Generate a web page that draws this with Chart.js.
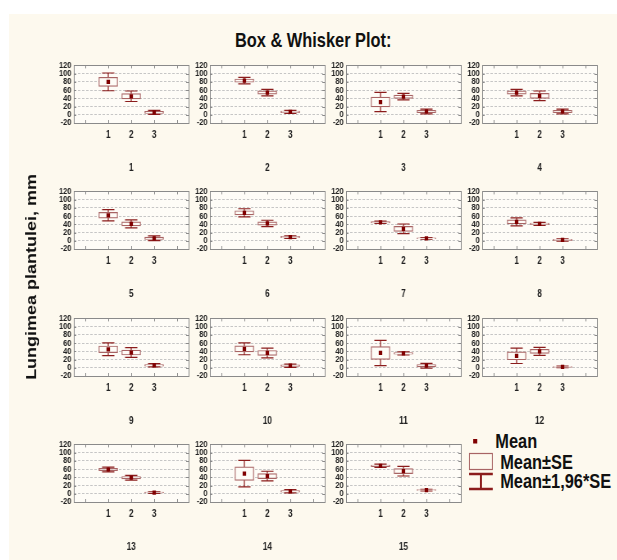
<!DOCTYPE html>
<html>
<head>
<meta charset="utf-8">
<script src="https://cdn.jsdelivr.net/npm/chart.js"></script>
<style>
  html, body { margin: 0; padding: 0; background: #ffffff; overflow: hidden; }
  /* the original graph is squeezed horizontally, so the whole stage is drawn wider then scaled */
  #stage { position: absolute; left: 0; top: 0; width: 753px; height: 560px;
           transform: scaleX(0.82); transform-origin: 0 0; }
  #stage canvas { position: absolute; }
  #stage svg { position: absolute; left: 0; top: 0; }
  text { font-family: "Liberation Sans", Arial, sans-serif; font-weight: bold; fill: #111; }
</style>
</head>
<body>
<div id="stage">
  <svg width="753" height="560">
    <rect x="11" y="14" width="742" height="546" fill="#fdf9ee"></rect>
    <text x="382" y="47" font-size="20" text-anchor="middle">Box &amp; Whisker Plot:</text>
    <text x="38" y="277" font-size="18" text-anchor="middle" dominant-baseline="central"
          transform="rotate(-90 38 277)">Lungimea plantulei, mm</text>
    <!-- legend -->
    <rect x="577" y="439" width="5" height="4.5" fill="#800000"></rect>
    <text x="604" y="448" font-size="20">Mean</text>
    <rect x="572.5" y="453.5" width="28" height="16" fill="none" stroke="#a86464" stroke-width="1.2"></rect>
    <text x="610" y="469" font-size="20">Mean±SE</text>
    <path d="M572 474 H601 M586.5 474 V489 M572 489 H601" stroke="#8b1c1c" stroke-width="2.4" fill="none"></path>
    <text x="610" y="488" font-size="20">Mean±1,96*SE</text>
  </svg>
</div>
<script>
// groups on the x axis and panel names
const groups = [1, 2, 3];
const xMarks = [0, 1, 2, 3, 4];
const yTicks = [-20, 0, 20, 40, 60, 80, 100, 120];
const panelNames = ["1", "2", "3", "4", "5", "6", "7", "8", "9", "10", "11", "12", "13", "14", "15"];

// means per group, one value per panel (1..15)
const meanGroup1 = [80, 83, 31, 54, 62, 68, 45, 46, 45, 46, 36, 29, 59, 49, 68];
const meanGroup2 = [45, 54, 44, 46, 41, 42, 29, 41, 37, 36, 35, 40, 39, 43, 55];
const meanGroup3 = [6, 7, 8, 8, 6, 9, 6, 2, 6, 5, 5, 2, 3, 6, 9];

// standard errors per group
const seGroup1 = [11, 4, 12, 4, 7, 5, 1.5, 5, 8, 7.3, 15.6, 9.5, 3, 16.4, 2];
const seGroup2 = [6.5, 4, 4, 6, 5, 4, 6, 2, 6, 6, 2, 5, 3, 6, 6];
const seGroup3 = [2.5, 2, 3, 3, 3, 1.5, 1, 1.5, 2, 2, 3, 1, 1, 2, 1];

const SQ = 0.82;            // horizontal squeeze of the stage
const plotW = 140, plotH = 60;
const padL = 30, padT = 6, padR = 6, axisH = 60;

const dark = "#800000";
const whiskerColor = "#8b1c1c";
const boxColor = "#a86464";
const plotBg = "#fefcf7";

const panelPlugin = {
  id: "panelPlugin",
  beforeDraw(chart) {
    const a = chart.chartArea, ctx = chart.ctx;
    ctx.save();
    ctx.fillStyle = plotBg;
    ctx.fillRect(a.left, a.top, a.width, a.height);
    ctx.restore();
  },
  beforeDatasetsDraw(chart) {
    // whiskers: mean ± 1.96*SE
    const ctx = chart.ctx, xs = chart.scales.x, ys = chart.scales.y;
    const st = chart.options.plugins.panelPlugin;
    ctx.save();
    ctx.strokeStyle = whiskerColor;
    ctx.lineWidth = 1.2;
    st.means.forEach((m, i) => {
      const x = xs.getPixelForValue(groups[i]);
      const y1 = ys.getPixelForValue(m + 1.96 * st.ses[i]);
      const y2 = ys.getPixelForValue(m - 1.96 * st.ses[i]);
      ctx.beginPath();
      ctx.moveTo(x, y1); ctx.lineTo(x, y2);
      ctx.moveTo(x - 7.5, y1); ctx.lineTo(x + 7.5, y1);
      ctx.moveTo(x - 7.5, y2); ctx.lineTo(x + 7.5, y2);
      ctx.stroke();
    });
    ctx.restore();
  },
  afterDraw(chart) {
    const a = chart.chartArea, ctx = chart.ctx, xs = chart.scales.x, ys = chart.scales.y;
    ctx.save();
    ctx.strokeStyle = "#8a8a8a";
    ctx.lineWidth = 1;
    ctx.strokeRect(Math.round(a.left) + 0.5, Math.round(a.top) + 0.5, Math.round(a.width), Math.round(a.height));
    ctx.beginPath();
    xMarks.forEach(v => {
      const x = Math.round(xs.getPixelForValue(v)) + 0.5;
      ctx.moveTo(x, a.top); ctx.lineTo(x, a.top + 3);
      ctx.moveTo(x, a.bottom); ctx.lineTo(x, a.bottom - 3);
    });
    yTicks.forEach(v => {
      const y = Math.round(ys.getPixelForValue(v)) + 0.5;
      ctx.moveTo(a.left, y); ctx.lineTo(a.left + 3, y);
      ctx.moveTo(a.right, y); ctx.lineTo(a.right - 3, y);
    });
    ctx.stroke();
    ctx.restore();
  }
};

const stage = document.getElementById("stage");

panelNames.forEach((name, p) => {
  const col = p % 4, row = Math.floor(p / 4);
  const plotLeft = (74 + 136 * col) / SQ;
  const plotTop = 63 + 126.3 * row;

  const canvas = document.createElement("canvas");
  canvas.width = padL + plotW + padR;
  canvas.height = padT + plotH + axisH;
  canvas.style.left = (plotLeft - padL) + "px";
  canvas.style.top = (plotTop - padT) + "px";
  stage.appendChild(canvas);

  const means = [meanGroup1[p], meanGroup2[p], meanGroup3[p]];
  const ses = [seGroup1[p], seGroup2[p], seGroup3[p]];

  new Chart(canvas.getContext("2d"), {
    type: "bar",
    data: {
      datasets: [
        {
          type: "bar",
          label: "Mean±SE",
          data: groups.map((g, i) => ({ x: g, y: [means[i] - ses[i], means[i] + ses[i]] })),
          backgroundColor: plotBg,
          borderColor: boxColor,
          borderWidth: 1.2,
          borderSkipped: false,
          barThickness: 23,
          order: 2
        },
        {
          type: "scatter",
          label: "Mean",
          data: groups.map((g, i) => ({ x: g, y: means[i] })),
          pointStyle: "rect",
          pointRadius: 3,
          backgroundColor: dark,
          borderColor: dark,
          borderWidth: 0,
          order: 1
        }
      ]
    },
    options: {
      responsive: false,
      animation: false,
      layout: { padding: { top: padT, right: padR, left: 0, bottom: 0 } },
      plugins: {
        legend: { display: false },
        tooltip: { enabled: false },
        panelPlugin: { means: means, ses: ses }
      },
      scales: {
        x: {
          type: "linear",
          min: -0.5,
          max: 4.5,
          offset: false,
          afterBuildTicks: s => { s.ticks = groups.map(v => ({ value: v })); },
          afterFit: s => { s.height = axisH; },
          grid: { display: false, drawTicks: false },
          border: { display: false },
          ticks: {
            autoSkip: false,
            maxRotation: 0,
            padding: 6,
            color: "#222",
            font: { family: "Liberation Sans", size: 10, weight: "bold" },
            callback: v => String(v)
          },
          title: {
            display: true,
            text: name,
            color: "#222",
            font: { family: "Liberation Sans", size: 10, weight: "bold" },
            padding: { top: 0, bottom: 9 }
          }
        },
        y: {
          min: -20,
          max: 120,
          afterBuildTicks: s => { s.ticks = yTicks.map(v => ({ value: v })); },
          afterFit: s => { s.width = padL; },
          grid: {
            drawTicks: false,
            color: c => (c.tick && (c.tick.value === -20 || c.tick.value === 120)) ? "rgba(0,0,0,0)" : "#c6c6c6"
          },
          border: { display: false, dash: [3, 2] },
          ticks: {
            autoSkip: false,
            padding: 3,
            color: "#222",
            font: { family: "Liberation Sans", size: 9, weight: "bold" }
          }
        }
      }
    },
    plugins: [panelPlugin]
  });
});
</script>
</body>
</html>
